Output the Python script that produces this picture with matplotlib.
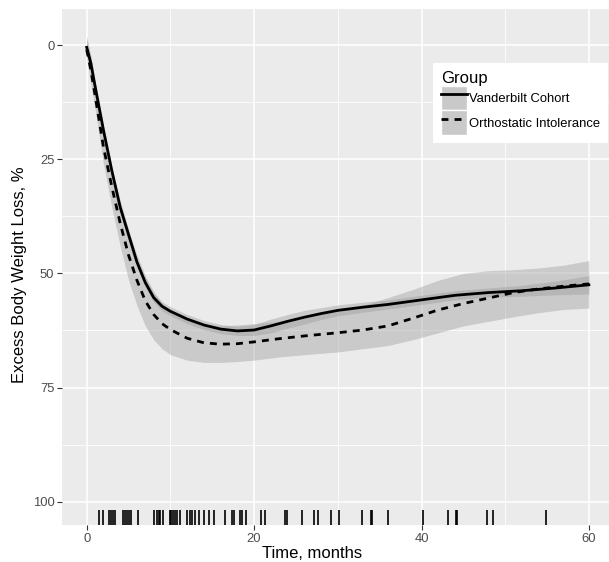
import numpy as np
import matplotlib.pyplot as plt
from matplotlib.patches import Patch
from matplotlib.lines import Line2D
from matplotlib.transforms import blended_transform_factory

plt.rcParams['font.family'] = ['Liberation Sans', 'DejaVu Sans']

# smoothed curves (months, % excess body weight loss)
vand_t = [0, 0.5, 1, 2, 3, 4, 5, 6, 7, 8, 9, 10, 12, 14, 16, 18, 20, 22, 24, 26,
          28, 30, 33, 36, 40, 44, 48, 52, 56, 60]
vand_y = [0.5, 4, 9, 18.6, 27.5, 35.5, 41.5, 47.5, 52, 55.3, 57.2, 58.3, 60, 61.3,
          62.2, 62.6, 62.4, 61.5, 60.5, 59.6, 58.8, 58.1, 57.4, 56.8, 55.8, 54.8,
          54.2, 53.8, 53.2, 52.5]
vand_se = [2, 1.5, 1.2, 1, 1, 1, 1, 1, 1, 1, 1, 1, 1, 1, 1, 1, 1.2, 1.5, 1.5, 1.5,
           1.3, 1.2, 1.1, 1, 1, 1, 1, 1.2, 1.5, 2]

oi_t = [0, 0.5, 1, 2, 3, 4, 5, 6, 7, 8, 9, 10, 12, 14, 16, 18, 20, 23, 26, 30, 33,
        36, 39, 42, 45, 48, 51, 54, 57, 60]
oi_y = [1, 5.5, 11, 22.3, 31, 39, 46, 51.5, 56, 59, 61, 62.3, 64.2, 65.2, 65.5, 65.4,
        65.0, 64.3, 63.7, 63.0, 62.4, 61.5, 59.8, 58.0, 56.6, 55.4, 54.2, 53.4,
        52.8, 52.3]
oi_lo = [-2, 2.5, 8, 18, 27, 34, 40.5, 46, 50.5, 54, 56.5, 58, 60, 61.2, 61.5, 61.3,
         61, 60.5, 59.5, 58.3, 57, 55.3, 53.5, 51.5, 50, 49.4, 49.2, 48.8, 48.2, 47.2]
oi_hi = [3, 8.5, 14, 26, 35.5, 44, 51.5, 57, 61.5, 64.5, 66.5, 67.8, 69, 69.5, 69.5,
         69.3, 69, 68.3, 67.8, 67.2, 66.5, 65.8, 64.5, 63, 61.5, 60.5, 59.5, 58.6,
         57.9, 57.6]

# follow-up times shown as rug marks
rug_t = [1.5, 1.9, 2.7, 2.95, 3.2, 3.4, 4.3, 4.6, 4.85, 5.1, 5.3, 6.1, 8.0, 8.4, 8.6,
         8.8, 9.1, 9.9, 10.1, 10.3, 10.6, 10.8, 11.2, 12.0, 12.3, 12.6, 12.9, 13.4,
         14.0, 14.6, 15.2, 16.5, 17.4, 17.6, 18.3, 18.5, 19.0, 20.8, 21.3, 23.7, 23.9,
         25.7, 27.2, 27.6, 29.2, 30.1, 32.9, 34.0, 34.1, 36.0, 40.2, 43.2, 44.1, 44.3,
         47.8, 48.6, 54.9]

labels = ['Vanderbilt Cohort', 'Orthostatic Intolerance']

fig = plt.figure(figsize=(6.09, 5.62), dpi=100)
ax = fig.add_axes([62 / 609, 1 - 525 / 562, 1 - 62 / 609, (525 - 9) / 562])
ax.set_facecolor('#EBEBEB')
for s in ax.spines.values():
    s.set_visible(False)

ax.set_xlim(-2.95, 62.4)
ax.set_ylim(105.1, -7.9)
ax.set_xticks([0, 20, 40, 60])
ax.set_yticks([0, 25, 50, 75, 100])
ax.set_xticks([10, 30, 50], minor=True)
ax.set_yticks([12.5, 37.5, 62.5, 87.5], minor=True)
ax.grid(which='major', color='white', lw=1.1)
ax.grid(which='minor', color='white', lw=0.55)
ax.set_axisbelow(True)
ax.tick_params(which='major', length=3.5, width=0.8, color='#333333',
               labelcolor='#4D4D4D', labelsize=9.4, pad=2)
ax.tick_params(which='minor', length=0)

vt = np.array(vand_t)
vy = np.array(vand_y)
vs = np.array(vand_se)
ax.fill_between(vt, vy - vs, vy + vs, color='#999999', alpha=0.4, lw=0)
ax.fill_between(oi_t, oi_lo, oi_hi, color='#999999', alpha=0.4, lw=0)
ax.plot(vt, vy, color='black', lw=2.0, solid_joinstyle='round')
ax.plot(oi_t, oi_y, color='black', lw=2.0, dashes=(2.5, 2.2))

tr = blended_transform_factory(ax.transData, ax.transAxes)
ax.vlines(rug_t, 0, 0.03, transform=tr, color='black', lw=1.2)

ax.set_xlabel('Time, months', fontsize=12)
ax.set_ylabel('Excess Body Weight Loss, %', fontsize=12)
ax.xaxis.set_label_coords(0.457, -0.041)
ax.yaxis.set_label_coords(-0.064, 0.485)

handles = [
    (Patch(facecolor='#C9C9C9', edgecolor='white', lw=1),
     Line2D([], [], color='black', lw=2.0)),
    (Patch(facecolor='#C9C9C9', edgecolor='white', lw=1),
     Line2D([], [], color='black', lw=2.0, dashes=(2.5, 2.2))),
]
leg = ax.legend(handles, labels, title='Group', loc='upper left',
                bbox_to_anchor=(0.678, 0.895), fontsize=9.4, title_fontsize=12,
                frameon=True, fancybox=False, edgecolor='white', framealpha=1,
                handlelength=2.0, handleheight=2.5, labelspacing=0.0,
                handletextpad=0.15, borderpad=0.6, borderaxespad=0,
                alignment='left')
leg.get_frame().set_linewidth(0)

fig.savefig('out.png', dpi=100)
